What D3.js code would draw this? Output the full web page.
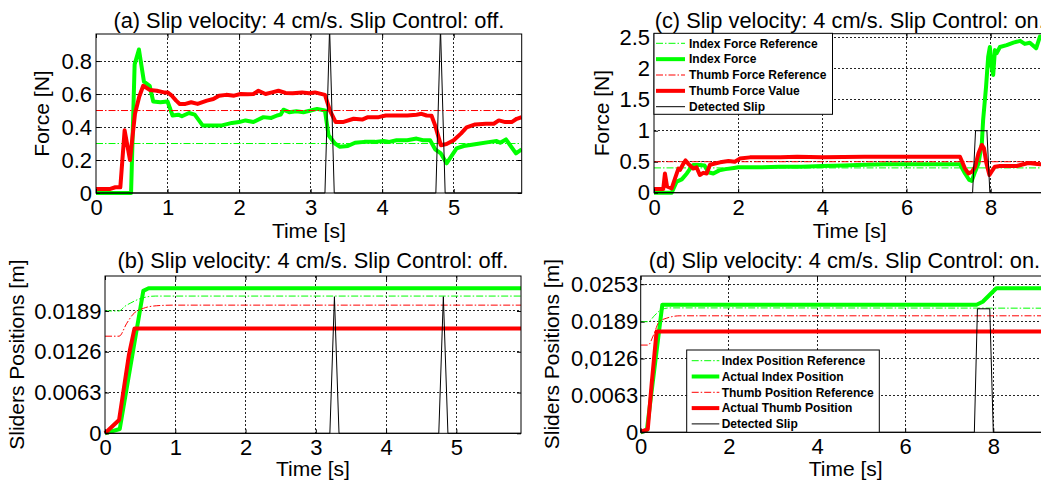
<html>
<script src="https://d3js.org/d3.v7.min.js"></script>
<style>
body { margin: 0; background: #fff; }
svg { display: block; font-family: "Liberation Sans", Arial, sans-serif; }
.grid line { stroke: #000; stroke-width: 1; stroke-dasharray: 2,2; shape-rendering: crispEdges; opacity: 0.85; }
.frame { fill: none; stroke: #000; stroke-width: 1; }
.title, .label { font-size: 21px; fill: #000; }
.legend text { font-size: 12px; font-weight: bold; fill: #000; }
</style>
<body>
<div id="chart"></div>
<script>

// ---------- data ----------
// (a) forces, slip control off  [time s, force N]
var indexForceA = [[0,0],[0.49,0],[0.54,0.78],[0.6,0.87],[0.67,0.675],[0.75,0.65],[0.8,0.555],[0.9,0.55],[1.0,0.555],
  [1.07,0.47],[1.15,0.475],[1.2,0.465],[1.3,0.485],[1.38,0.475],[1.49,0.41],[1.6,0.41],[1.76,0.41],[1.9,0.425],
  [2.0,0.43],[2.09,0.44],[2.2,0.43],[2.34,0.46],[2.45,0.455],[2.53,0.47],[2.58,0.475],[2.62,0.505],[2.7,0.49],
  [2.8,0.495],[2.9,0.49],[3.0,0.5],[3.09,0.51],[3.2,0.5],[3.25,0.35],[3.34,0.3],[3.41,0.28],[3.52,0.285],
  [3.62,0.305],[3.75,0.31],[3.9,0.31],[4.02,0.315],[4.1,0.31],[4.2,0.32],[4.35,0.32],[4.48,0.33],[4.57,0.32],
  [4.67,0.32],[4.74,0.265],[4.82,0.24],[4.9,0.18],[5.04,0.27],[5.14,0.285],[5.32,0.297],[5.51,0.31],[5.6,0.315],
  [5.65,0.305],[5.73,0.325],[5.87,0.24],[5.95,0.265]];
var thumbForceA = [[0,0.025],[0.2,0.025],[0.27,0.035],[0.34,0.035],[0.4,0.38],[0.475,0.2],[0.545,0.48],[0.605,0.585],
  [0.66,0.65],[0.75,0.625],[0.85,0.62],[0.95,0.61],[1.0,0.61],[1.06,0.59],[1.12,0.56],[1.17,0.54],[1.25,0.54],
  [1.33,0.55],[1.42,0.54],[1.55,0.56],[1.64,0.57],[1.72,0.59],[1.82,0.595],[1.93,0.59],[2.02,0.6],[2.12,0.598],
  [2.2,0.6],[2.27,0.62],[2.37,0.6],[2.46,0.61],[2.55,0.62],[2.65,0.607],[2.75,0.605],[2.88,0.61],[2.98,0.605],
  [3.06,0.61],[3.2,0.595],[3.27,0.5],[3.35,0.43],[3.45,0.43],[3.6,0.45],[3.72,0.445],[3.8,0.46],[3.95,0.46],
  [4.05,0.47],[4.2,0.47],[4.35,0.47],[4.48,0.475],[4.55,0.48],[4.62,0.47],[4.69,0.468],[4.74,0.41],[4.82,0.29],
  [4.9,0.297],[5.0,0.32],[5.1,0.36],[5.18,0.398],[5.3,0.416],[5.45,0.42],[5.56,0.42],[5.63,0.44],[5.72,0.43],
  [5.81,0.43],[5.88,0.45],[5.95,0.46]];
var indexRefA = [[0,0.3],[5.95,0.3]];
var thumbRefA = [[0,0.5],[5.95,0.5]];
var slipA = [[0,0],[3.2,0],[3.265,1],[3.33,0],[4.75,0],[4.815,1],[4.88,0],[5.95,0]];

// (b) slider positions, slip control off  [time s, position m]
var indexPosB = [[0,0],[0.21,0.00066],[0.545,0.022],[0.62,0.0224],[5.95,0.0224]];
var thumbPosB = [[0,0],[0.2,0.00205],[0.34,0.0121],[0.42,0.0162],[5.95,0.0162]];
var indexRefPosB = [[0,0.0189],[0.2,0.0189],[0.28,0.0196],[0.36,0.0201],[0.5,0.0208],[0.72,0.0212],[5.95,0.0212]];
var thumbRefPosB = [[0,0.015],[0.2,0.015],[0.31,0.017],[0.4,0.0184],[0.545,0.0193],[0.73,0.0197],[0.97,0.0198],[5.95,0.0198]];
var slipB = [[0,0],[3.2,0],[3.265,0.0211],[3.33,0],[4.75,0],[4.815,0.0211],[4.88,0],[5.95,0]];

// (c) forces, slip control on
var indexForceC = [[0,0],[0.42,0],[0.54,0.18],[0.66,0.215],[0.78,0.31],[0.86,0.39],[0.93,0.447],[1.09,0.447],
  [1.2,0.44],[1.29,0.33],[1.41,0.31],[1.55,0.36],[1.7,0.38],[1.9,0.4],[2.0,0.41],[2.5,0.41],[3.0,0.42],[3.5,0.42],
  [4.0,0.43],[4.5,0.44],[5.0,0.45],[5.5,0.46],[6.0,0.46],[6.5,0.46],[7.0,0.46],[7.27,0.458],[7.39,0.31],[7.49,0.205],
  [7.55,0.19],[7.63,0.34],[7.71,0.47],[7.79,0.8],[7.82,1.17],[7.89,1.71],[7.94,2.19],[7.98,2.35],[8.02,2.03],
  [8.06,1.9],[8.1,2.3],[8.14,2.25],[8.22,2.35],[8.38,2.38],[8.54,2.42],[8.7,2.45],[8.81,2.4],[8.93,2.42],
  [9.08,2.33],[9.17,2.52],[9.3,2.5]];
var thumbForceC = [[0,0.06],[0.22,0.06],[0.26,0.31],[0.31,0.1],[0.42,0.07],[0.5,0.23],[0.58,0.39],[0.62,0.37],
  [0.7,0.47],[0.75,0.52],[0.81,0.47],[0.93,0.39],[1.01,0.41],[1.09,0.285],[1.17,0.32],[1.25,0.31],[1.33,0.45],
  [1.45,0.47],[1.57,0.49],[1.77,0.51],[1.92,0.5],[2.04,0.55],[2.28,0.57],[3.0,0.57],[3.4,0.58],[4.0,0.57],
  [5.0,0.58],[6.0,0.58],[7.0,0.58],[7.27,0.58],[7.39,0.39],[7.47,0.31],[7.56,0.34],[7.63,0.42],[7.71,0.635],
  [7.79,0.77],[7.84,0.72],[7.9,0.47],[7.97,0.285],[8.02,0.34],[8.1,0.42],[8.22,0.43],[8.62,0.43],[8.89,0.48],
  [9.17,0.46],[9.3,0.46]];
var indexRefC = [[0,0.4],[9.3,0.4]];
var thumbRefC = [[0,0.5],[9.3,0.5]];
var slipC = [[0,0],[7.57,0],[7.64,1],[7.91,1],[7.98,0],[9.3,0]];

// (d) slider positions, slip control on
var indexPosD = [[0,0],[0.14,0.0004],[0.49,0.0218],[7.62,0.0218],[7.76,0.0223],[7.96,0.0238],[8.07,0.0246],[9.3,0.0246]];
var thumbPosD = [[0,0.0001],[0.16,0.0005],[0.25,0.0084],[0.36,0.0172],[9.3,0.0172]];
var indexRefPosD = [[0,0.0189],[0.17,0.0189],[0.32,0.02],[0.48,0.021],[0.66,0.02125],[9.3,0.0212]];
var thumbRefPosD = [[0,0.0149],[0.17,0.0149],[0.29,0.0166],[0.42,0.0189],[0.59,0.0195],[0.89,0.0199],[9.3,0.0199]];
var slipD = [[0,0],[7.57,0],[7.64,0.0211],[7.92,0.0211],[8.0,0],[9.3,0]];

// ticks and labels
var xTicksOff = [0,1,2,3,4,5];
var xTicksOn = [0,2,4,6,8];
var yTicksA = [0,0.2,0.4,0.6,0.8];
var yLabelsA = ["0","0.2","0.4","0.6","0.8"];
var yTicksC = [0,0.5,1,1.5,2,2.5];
var yLabelsC = ["0","0.5","1","1.5","2","2.5"];
var yTicksB = [0,0.0063,0.0126,0.0189];
var yLabelsB = ["0","0.0063","0.0126","0.0189"];
var yTicksD = [0,0.0063,0.0126,0.0189,0.0253];
var yLabelsD = ["0","0.0063","0,0126","0.0189","0.0253"];

var legendForce = ["Index Force Reference","Index Force","Thumb Force Reference","Thumb Force Value","Detected Slip"];
var legendPos = ["Index Position Reference","Actual Index Position","Thumb Position Reference","Actual Thumb Position","Detected Slip"];

// ---------- drawing ----------
var svg = d3.select("#chart").append("svg")
  .attr("width", 1041)
  .attr("height", 486);

var refStyle = function(c) { return {color: c, width: 1, dash: "7,2,1.5,2", smooth: true}; };
var thick = function(c) { return {color: c, width: 4, dash: null}; };
var slipStyle = {color: "#000", width: 1, dash: null};
var GREEN = "#00ff00", RED = "#ff0000";

var panels = [
  {name: "a", left: 96, right: 521.7, top: 34, bottom: 193, xDomain: [0, 5.95], yDomain: [0, 0.964],
   xTicks: xTicksOff, yTicks: yTicksA, yLabels: yLabelsA, yPad: 4,
   title: "(a) Slip velocity: 4 cm/s. Slip Control: off.", titleY: 28,
   ylabel: "Force [N]", ylabelX: 49, xlabelY: 237.5,
   series: [[indexRefA, refStyle(GREEN)], [indexForceA, thick(GREEN)], [thumbRefA, refStyle(RED)],
            [thumbForceA, thick(RED)], [slipA, slipStyle]]},
  {name: "b", left: 105, right: 521, top: 276, bottom: 433.3, xDomain: [0, 5.92], yDomain: [0, 0.0243],
   xTicks: xTicksOff, yTicks: yTicksB, yLabels: yLabelsB, yPad: 3.5,
   title: "(b) Slip velocity: 4 cm/s. Slip Control: off.", titleY: 268,
   ylabel: "Sliders Positions [m]", ylabelX: 24, xlabelY: 475.5,
   series: [[indexRefPosB, refStyle(GREEN)], [indexPosB, thick(GREEN)], [thumbRefPosB, refStyle(RED)],
            [thumbPosB, thick(RED)], [slipB, slipStyle]]},
  {name: "c", left: 654, right: 1045.4, top: 33.7, bottom: 192.7, xDomain: [0, 9.3], yDomain: [0, 2.565],
   xTicks: xTicksOn, yTicks: yTicksC, yLabels: yLabelsC, yPad: 4,
   title: "(c) Slip velocity: 4 cm/s. Slip Control: on.", titleY: 28,
   ylabel: "Force [N]", ylabelX: 609, xlabelY: 237.5,
   series: [[indexRefC, refStyle(GREEN)], [indexForceC, thick(GREEN)], [thumbRefC, refStyle(RED)],
            [thumbForceC, thick(RED)], [slipC, slipStyle]],
   legend: {labels: legendForce, x0: 654, x1: 832.5, y0: 33.3, y1: 114.3, rowY: 43.3, rowStep: 15.85,
            lineX0: 656, lineX1: 685, textX: 689}},
  {name: "d", left: 640.7, right: 1050.6, top: 276, bottom: 432.3, xDomain: [0, 9.3], yDomain: [0, 0.0267],
   xTicks: xTicksOn, yTicks: yTicksD, yLabels: yLabelsD, yPad: 2.5, titleX: 844.5,
   title: "(d) Slip velocity: 4 cm/s. Slip Control: on.", titleY: 268,
   ylabel: "Sliders Positions [m]", ylabelX: 559, xlabelY: 475.5,
   series: [[indexRefPosD, refStyle(GREEN)], [indexPosD, thick(GREEN)], [thumbRefPosD, refStyle(RED)],
            [thumbPosD, thick(RED)], [slipD, slipStyle]],
   legend: {labels: legendPos, x0: 686.7, x1: 879.3, y0: 350, y1: 432.3, rowY: 360.7, rowStep: 15.8,
            lineX0: 691.7, lineX1: 719.3, textX: 721.7}}
];

function styleAxis(sel) {
  sel.attr("font-size", 22).attr("font-family", "'Liberation Sans', Arial, sans-serif");
  sel.select(".domain").remove();
}

panels.forEach(function(p) {
  var x = d3.scaleLinear().domain(p.xDomain).range([p.left, p.right]);
  var y = d3.scaleLinear().domain(p.yDomain).range([p.bottom, p.top]);
  var g = svg.append("g");

  // clip data to the plot box (a little room below for thick lines at zero)
  var clipId = "clip-" + p.name;
  svg.append("clipPath").attr("id", clipId).append("rect")
    .attr("x", p.left - 3).attr("y", p.top)
    .attr("width", p.right - p.left + 3).attr("height", p.bottom - p.top + 3);

  // grid lines
  var grid = g.append("g").attr("class", "grid");
  grid.selectAll(".gx").data(p.xTicks.filter(function(d) { return d > 0; }))
    .enter().append("line")
    .attr("x1", function(d) { return x(d); }).attr("x2", function(d) { return x(d); })
    .attr("y1", p.top).attr("y2", p.bottom);
  grid.selectAll(".gy").data(p.yTicks.filter(function(d) { return d > 0; }))
    .enter().append("line")
    .attr("y1", function(d) { return y(d); }).attr("y2", function(d) { return y(d); })
    .attr("x1", p.left).attr("x2", p.right);

  // data lines
  var straight = d3.line().x(function(d) { return x(d[0]); }).y(function(d) { return y(d[1]); });
  var smooth = d3.line().curve(d3.curveMonotoneX).x(function(d) { return x(d[0]); }).y(function(d) { return y(d[1]); });
  var lines = g.append("g").attr("clip-path", "url(#" + clipId + ")");
  p.series.forEach(function(s) {
    lines.append("path")
      .datum(s[0])
      .attr("d", s[1].smooth ? smooth : straight)
      .attr("fill", "none")
      .attr("stroke", s[1].color)
      .attr("stroke-width", s[1].width)
      .attr("stroke-dasharray", s[1].dash)
      .attr("stroke-linejoin", "round");
  });

  // axes: inward ticks on all four sides
  g.append("g").attr("transform", "translate(0," + p.bottom + ")")
    .call(d3.axisBottom(x).tickValues(p.xTicks).tickFormat(d3.format("d"))
      .tickSizeInner(-4).tickSizeOuter(0).tickPadding(6.5))
    .call(styleAxis);
  g.append("g").attr("transform", "translate(0," + p.top + ")")
    .call(d3.axisTop(x).tickValues(p.xTicks).tickFormat("").tickSizeInner(-4).tickSizeOuter(0))
    .call(styleAxis);
  g.append("g").attr("transform", "translate(" + p.left + ",0)")
    .call(d3.axisLeft(y).tickValues(p.yTicks).tickFormat(function(d, i) { return p.yLabels[i]; })
      .tickSizeInner(-4).tickSizeOuter(0).tickPadding(p.yPad))
    .call(styleAxis);
  g.append("g").attr("transform", "translate(" + p.right + ",0)")
    .call(d3.axisRight(y).tickValues(p.yTicks).tickFormat("").tickSizeInner(-4).tickSizeOuter(0))
    .call(styleAxis);

  g.append("rect").attr("class", "frame")
    .attr("x", p.left).attr("y", p.top)
    .attr("width", p.right - p.left).attr("height", p.bottom - p.top);

  // texts
  var cx = (p.left + p.right) / 2;
  g.append("text").attr("class", "title")
    .attr("x", p.titleX || cx).attr("y", p.titleY).attr("text-anchor", "middle")
    .style("font-size", "21.8px")
    .text(p.title);
  g.append("text").attr("class", "label")
    .attr("x", cx).attr("y", p.xlabelY).attr("text-anchor", "middle")
    .text("Time [s]");
  g.append("text").attr("class", "label")
    .attr("transform", "translate(" + p.ylabelX + "," + (p.top + p.bottom) / 2 + ") rotate(-90)")
    .attr("text-anchor", "middle")
    .text(p.ylabel);

  // legend
  if (p.legend) {
    var L = p.legend;
    var lg = g.append("g").attr("class", "legend");
    lg.append("rect")
      .attr("x", L.x0).attr("y", L.y0)
      .attr("width", L.x1 - L.x0).attr("height", L.y1 - L.y0)
      .attr("fill", "#fff").attr("stroke", "#000").attr("stroke-width", 1);
    L.labels.forEach(function(name, i) {
      var st = p.series[i][1];
      var ry = L.rowY + i * L.rowStep;
      lg.append("line")
        .attr("x1", L.lineX0).attr("x2", L.lineX1).attr("y1", ry).attr("y2", ry)
        .attr("stroke", st.color).attr("stroke-width", st.width)
        .attr("stroke-dasharray", st.dash);
      lg.append("text").attr("x", L.textX).attr("y", ry).attr("dy", "0.36em").text(name);
    });
  }
});

</script>
</body>
</html>
